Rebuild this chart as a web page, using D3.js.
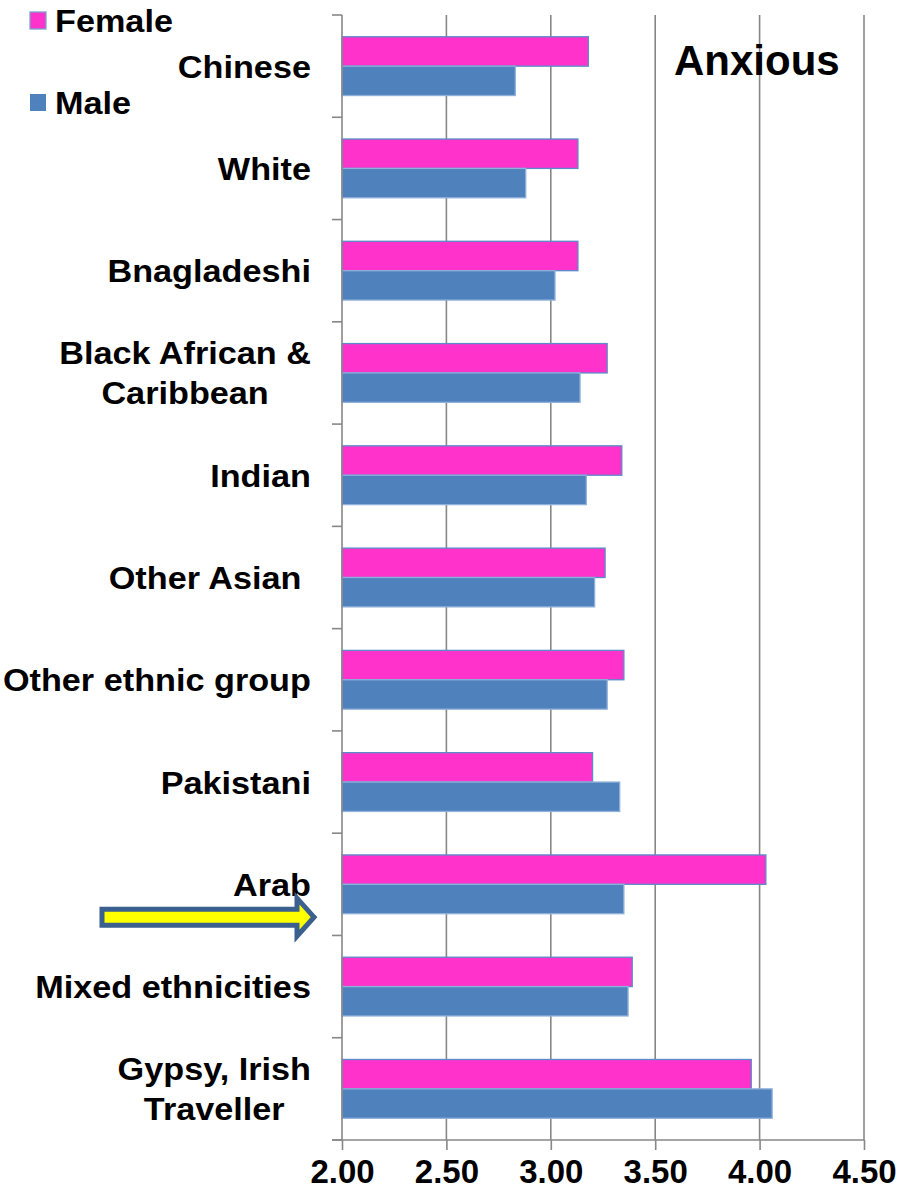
<!DOCTYPE html>
<html>
<head>
<meta charset="utf-8">
<script src="https://cdn.jsdelivr.net/npm/d3@7"></script>
<style>
  html, body { margin: 0; padding: 0; background: #fff; }
  svg { display: block; font-family: "Liberation Sans", Arial, sans-serif; font-weight: bold; }
</style>
</head>
<body>
<svg id="chart" width="904" height="1199"></svg>
<script>
// Mean "Anxious" score by ethnic group and sex
const categories = [
  "Chinese", "White", "Bnagladeshi", "Black African &\nCaribbean", "Indian",
  "Other Asian ", "Other ethnic group", "Pakistani", "Arab",
  "Mixed ethnicities", "Gypsy, Irish\nTraveller"
];
const femaleValues = [3.18, 3.13, 3.13, 3.27, 3.34, 3.26, 3.35, 3.20, 4.03, 3.39, 3.96];
const maleValues   = [2.83, 2.88, 3.02, 3.14, 3.17, 3.21, 3.27, 3.33, 3.35, 3.37, 4.06];
const series = ["Female", "Male"];
const xTicks = [2.0, 2.5, 3.0, 3.5, 4.0, 4.5];
const highlighted = "Arab";

const colors = { Female: "#ff33cc", Male: "#4f81bd" };
const strokes = { Female: "#5b8bc8", Male: "#8fb0da" };
const gridColor = "#878787";

const svg = d3.select("#chart");
const plot = { left: 342, right: 864, top: 15, bottom: 1140 };

const x = d3.scaleLinear().domain([2.0, 4.5]).range([plot.left, plot.right]);
const y = d3.scaleBand().domain(categories).range([plot.top, plot.bottom]);
const inner = d3.scaleBand().domain(series).range([0, y.bandwidth()]).paddingOuter(0.74);

// vertical gridlines
svg.append("g")
  .selectAll("line")
  .data(xTicks.slice(1))
  .join("line")
  .attr("x1", d => x(d)).attr("x2", d => x(d))
  .attr("y1", plot.top).attr("y2", plot.bottom)
  .attr("stroke", gridColor).attr("stroke-width", 1.6);

// bars
const rows = categories.map((c, i) => ({ cat: c, Female: femaleValues[i], Male: maleValues[i] }));
const barG = svg.append("g");
series.forEach(s => {
  barG.append("g")
    .selectAll("rect")
    .data(rows)
    .join("rect")
    .attr("x", x(2.0))
    .attr("y", d => y(d.cat) + inner(s))
    .attr("width", d => x(d[s]) - x(2.0))
    .attr("height", inner.bandwidth())
    .attr("fill", colors[s])
    .attr("stroke", strokes[s])
    .attr("stroke-width", 1.3);
});

// x axis
const xAxis = svg.append("g")
  .attr("transform", `translate(0,${plot.bottom})`)
  .call(d3.axisBottom(x).tickValues(xTicks).tickFormat(d3.format(".2f")).tickSize(10).tickSizeOuter(0));
xAxis.select(".domain").remove();
xAxis.append("line")
  .attr("x1", plot.left - 10).attr("x2", plot.right)
  .attr("stroke", gridColor).attr("stroke-width", 1.6);
xAxis.selectAll(".tick line").attr("stroke", gridColor).attr("stroke-width", 1.6);
xAxis.selectAll(".tick text")
  .attr("y", 43)
  .attr("dy", 0)
  .attr("fill", "#000")
  .style("font-size", "33px")
  .style("font-weight", "bold")
  .style("font-family", "'Liberation Sans', Arial, sans-serif");

// y axis line and boundary ticks
const yAxis = svg.append("g");
yAxis.append("line")
  .attr("x1", plot.left).attr("x2", plot.left)
  .attr("y1", plot.top).attr("y2", plot.bottom)
  .attr("stroke", gridColor).attr("stroke-width", 1.6);
const bounds = categories.map(c => y(c)).concat([plot.bottom]);
yAxis.selectAll("line.tk")
  .data(bounds)
  .join("line")
  .attr("class", "tk")
  .attr("x1", plot.left - 10).attr("x2", plot.left)
  .attr("y1", d => d).attr("y2", d => d)
  .attr("stroke", gridColor).attr("stroke-width", 1.6);

// category labels (multi-line labels centred under each other, block right-aligned)
const labelRight = 311;
const labelSize = 32;
const stretch = 1.07;
const lineGap = 40;
categories.forEach(c => {
  const lines = c.split("\n");
  const cy = y(c) + y.bandwidth() / 2;
  const g = svg.append("g");
  const texts = lines.map((ln, i) =>
    g.append("text")
      .attr("xml:space", "preserve")
      .style("white-space", "pre")
      .style("font-size", labelSize + "px")
      .attr("fill", "#000")
      .attr("text-anchor", "middle")
      .attr("dy", "0.36em")
      .datum(cy + (i - (lines.length - 1) / 2) * lineGap)
      .text(ln)
  );
  const maxW = d3.max(texts, t => t.node().getComputedTextLength()) * stretch;
  texts.forEach(t => t.attr("transform", d => `translate(${labelRight - maxW / 2},${d}) scale(${stretch},1)`));
});

// highlight arrow pointing at the Arab row
const ay = y(highlighted) + inner("Male") + inner.bandwidth() + 3.5;
const arrow = d3.path();
arrow.moveTo(102, ay - 8);
arrow.lineTo(297, ay - 8);
arrow.lineTo(297, ay - 19);
arrow.lineTo(314, ay);
arrow.lineTo(297, ay + 19);
arrow.lineTo(297, ay + 8);
arrow.lineTo(102, ay + 8);
arrow.closePath();
svg.append("path")
  .attr("d", arrow.toString())
  .attr("fill", "#ffff00")
  .attr("stroke", "#3b5f8e")
  .attr("stroke-width", 5)
  .attr("stroke-linejoin", "miter");

// legend
const legend = svg.append("g");
const legendY = { Female: 12, Male: 94 };
series.forEach(s => {
  legend.append("rect")
    .attr("x", 30).attr("y", legendY[s])
    .attr("width", 16).attr("height", 17)
    .attr("fill", colors[s])
    .attr("stroke", s === "Female" ? "#7fa0cc" : "none")
    .attr("stroke-width", 1.3);
  legend.append("text")
    .attr("transform", `translate(55,${legendY[s] + 8.5}) scale(${stretch},1)`)
    .attr("dy", "0.36em")
    .style("font-size", labelSize + "px")
    .attr("fill", "#000")
    .text(s);
});

// panel title
svg.append("text")
  .attr("x", 674).attr("y", 75)
  .style("font-size", "42px")
  .attr("fill", "#000")
  .text("Anxious");
</script>
</body>
</html>
